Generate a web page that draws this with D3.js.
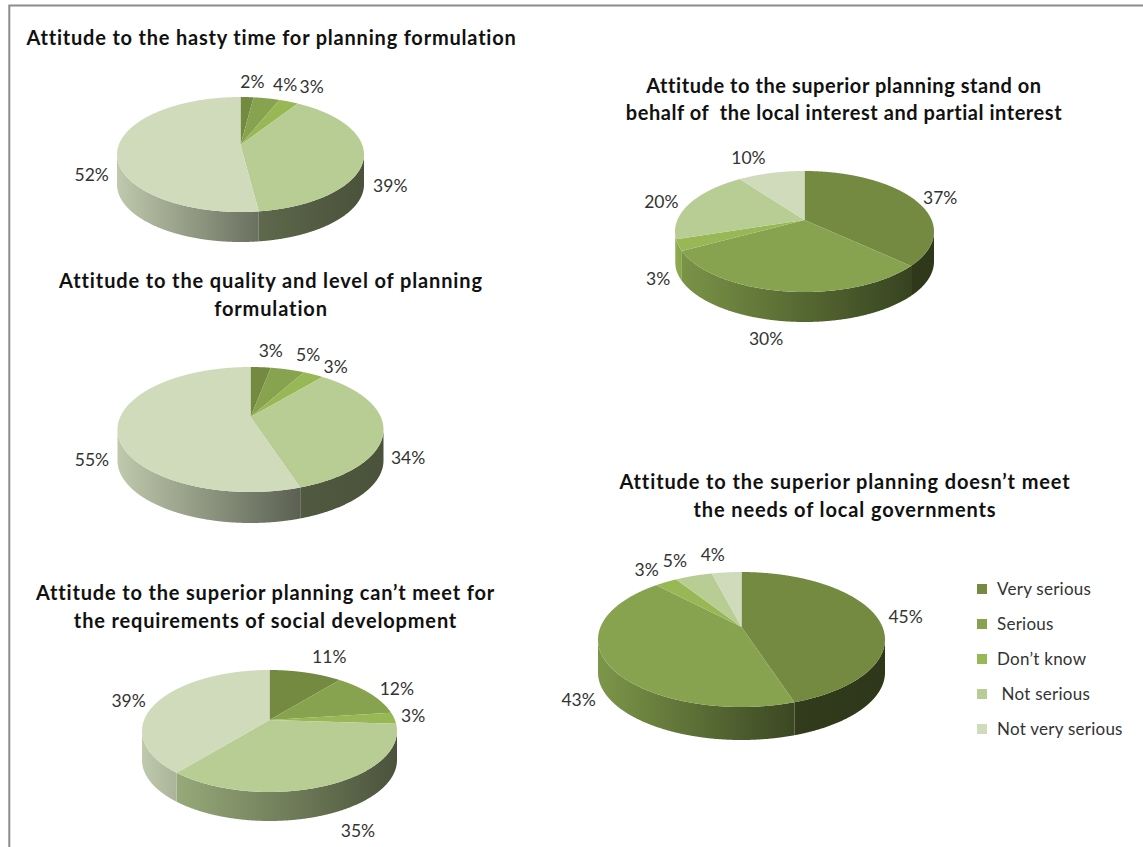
<!DOCTYPE html>
<html>
<head>
<meta charset="utf-8">
<script src="https://cdn.jsdelivr.net/npm/d3@7"></script>
<style>
  html, body { margin: 0; padding: 0; background: #fff; overflow: hidden; }
  svg { display: block; }
  text { font-family: Lato, "Open Sans", sans-serif; }
</style>
</head>
<body>
<svg id="chart" width="1143" height="847"></svg>
<script>
// Response categories, shared by all five pies
const categories = ["Very serious", "Serious", "Don\u2019t know", "\u00a0Not serious", "Not very serious"];

// Survey shares in percent, one list per question
const hastyTime = [2, 4, 3, 39, 52];
const qualityLevel = [3, 5, 3, 34, 55];
const socialDevelopment = [11, 12, 3, 35, 39];
const localInterest = [37, 30, 3, 20, 10];
const localGovernments = [45, 43, 3, 5, 4];

const titleHasty = ["Attitude to the hasty time for planning formulation"];
const titleQuality = ["Attitude to the quality and level of planning", "formulation"];
const titleSocial = ["Attitude to the superior planning can\u2019t meet for", "the requirements of social development"];
const titleInterest = ["Attitude to the superior planning stand on", "behalf of\u00a0 the local interest and partial interest"];
const titleGovernments = ["Attitude to the superior planning doesn\u2019t meet", "the needs of local governments"];

const palette = ["#738a40", "#87a34f", "#98b855", "#b8cd93", "#d0dbbb"];

// Layout of each tilted pie: ellipse of the top face, wall depth, apex shift, label nudges
const pies = [
  { values: hastyTime, title: titleHasty, cx: 240.5, cy: 154.5, rx: 123.5, ry: 57.5, depth: 30, apex: 9.5,
    titleX: 271.5, titleY: [45], tracking: 0.8,
    nudge: [[4,-1],[13,0],[13,-2],[5,-5],[-4,-4]] },
  { values: qualityLevel, title: titleQuality, cx: 250.5, cy: 429.5, rx: 133, ry: 62.5, depth: 31, apex: 12.5,
    titleX: 271, titleY: [288, 316], tracking: 0.87,
    nudge: [[8,-2],[13,-1],[10,4],[3,-4],[-4,0]] },
  { values: socialDevelopment, title: titleSocial, cx: 269.5, cy: 731, rx: 127.5, ry: 61, depth: 29, apex: 11,
    titleX: 265.5, titleY: [600, 628], tracking: 0.83,
    nudge: [[16,-2],[7,2],[-3,-2],[20,4],[-9,5]] },
  { values: localInterest, title: titleInterest, cx: 804.5, cy: 231.5, rx: 129.5, ry: 60.5, depth: 30, apex: 11.5,
    titleX: 844, titleY: [93, 120], tracking: 0.55,
    nudge: [[7,5],[-16,4],[0,-2],[-8,3],[-16,-2]] },
  { values: localGovernments, title: titleGovernments, cx: 741.5, cy: 639.5, rx: 143.5, ry: 67.5, depth: 33, apex: 12.5,
    titleX: 845, titleY: [489, 517], tracking: 0.87,
    nudge: [[7,2],[-10,-4],[-6,-1],[-10,-2],[-11,-3]] }
];

const svg = d3.select("#chart");
const defs = svg.append("defs");
const colour = d3.scaleOrdinal().domain(categories).range(palette);
const pieLayout = d3.pie().sort(null).value(d => d);
const outline = d3.line();
// Brightness of the wall falls from the left side of the pie towards the right
const wallLight = d3.scaleLinear().domain([0, 0.67, 1]).range([0.92, 0.44, 0.40]).clamp(true);

// Frame around the figure
svg.append("path")
  .attr("d", d3.line()([[9.3, 847], [9.3, 5.5], [1143, 5.5]]))
  .attr("fill", "none").attr("stroke", "#8c8c8c").attr("stroke-width", 2);

// Projects an angle on the rim through a disc-preserving perspective, so the apex sits above the ellipse centre
function rimPoint(p, angle) {
  const t = p.apex / p.ry;
  const s = Math.sin(angle), c = Math.cos(angle);
  const w = 1 + t * c;
  return [p.cx + p.rx * s * Math.sqrt(1 - t * t) / w, p.cy - p.ry * (c + t) / w];
}

function sampleRim(p, a0, a1) {
  const n = Math.max(2, Math.ceil((a1 - a0) / 0.005));
  return d3.range(n + 1).map(i => rimPoint(p, a0 + (a1 - a0) * i / n));
}

pies.forEach((p, pieIndex) => {
  const g = svg.append("g");
  const arcs = pieLayout(p.values);

  // Side walls first, only for the part of the rim below the ellipse centre
  arcs.forEach((a, i) => {
    const front = sampleRim(p, a.startAngle, a.endAngle).filter(q => q[1] >= p.cy);
    if (front.length < 2) return;
    const x0 = d3.min(front, q => q[0]), x1 = d3.max(front, q => q[0]);
    const relative = x => (x - (p.cx - p.rx)) / (2 * p.rx);
    const id = `wall-${pieIndex}-${i}`;
    const grad = defs.append("linearGradient").attr("id", id)
      .attr("gradientUnits", "userSpaceOnUse")
      .attr("x1", x0).attr("x2", x1).attr("y1", 0).attr("y2", 0);
    const base = d3.rgb(colour(categories[i]));
    [[0, x0], [1, x1]].forEach(([o, x]) => {
      const k = wallLight(relative(x));
      grad.append("stop").attr("offset", o)
        .attr("stop-color", d3.rgb(base.r * k, base.g * k, base.b * k).formatHex());
    });
    const lower = front.map(q => [q[0], q[1] + p.depth]).reverse();
    g.append("path").attr("d", outline(front.concat(lower)) + "Z").attr("fill", `url(#${id})`);
  });

  // Top face
  const apexPoint = [p.cx, p.cy - p.apex];
  arcs.forEach((a, i) => {
    const pts = [apexPoint].concat(sampleRim(p, a.startAngle, a.endAngle));
    g.append("path").attr("d", outline(pts) + "Z").attr("fill", colour(categories[i]));
  });

  // Percentage labels, pushed out from the rim along the slice's mid angle
  arcs.forEach((a, i) => {
    const mid = (a.startAngle + a.endAngle) / 2;
    const [x, y] = rimPoint(p, mid);
    const below = Math.cos(mid) < 0 ? p.depth : 0;
    const gapX = 22 * Math.sin(mid), gapY = -14 * Math.cos(mid);
    g.append("text")
      .attr("x", x + gapX + p.nudge[i][0])
      .attr("y", y + gapY + below + p.nudge[i][1] + 6)
      .attr("text-anchor", "middle").attr("font-size", 17.5).attr("fill", "#333")
      .text(a.data + "%");
  });

  // Title
  p.title.forEach((line, i) => {
    g.append("text")
      .attr("x", p.titleX).attr("y", p.titleY[i])
      .attr("text-anchor", "middle").attr("font-size", 20).attr("font-weight", 700)
      .attr("letter-spacing", p.tracking).attr("fill", "#111")
      .text(line);
  });
});

// Legend
const legendY = d3.scalePoint().domain(categories).range([589, 729]);
const legend = svg.append("g");
categories.forEach(c => {
  legend.append("rect").attr("x", 977).attr("y", legendY(c) - 5).attr("width", 10).attr("height", 10).attr("fill", colour(c));
  legend.append("text").attr("x", 997).attr("y", legendY(c) + 5.5)
    .attr("font-size", 17).attr("letter-spacing", 0.25).attr("fill", "#333").text(c);
});
</script>
</body>
</html>
